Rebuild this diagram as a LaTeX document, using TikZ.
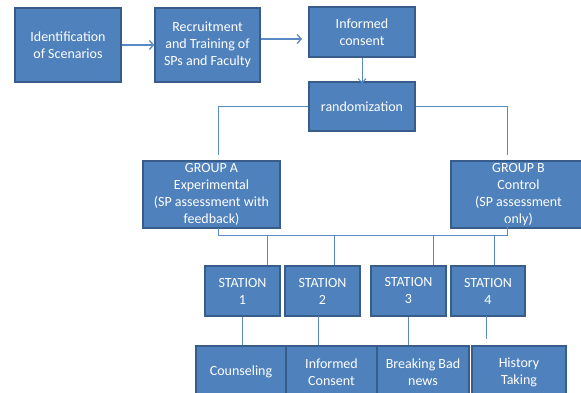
\documentclass[tikz,border=0pt]{standalone}
\usepackage{fontspec}
\setmainfont{Carlito}
\usetikzlibrary{arrows.meta}
\definecolor{boxfill}{HTML}{4F81BD}
\definecolor{boxdraw}{HTML}{385D8A}
\definecolor{linecol}{HTML}{5A8AC6}
\tikzset{
  bx/.style={draw=boxdraw, fill=boxfill, line width=1.5pt, text=white, inner sep=0pt,
    align=center, font=\fontsize{14}{17}\selectfont},
  conn/.style={draw=linecol, line width=1pt},
  arr/.style={draw=linecol, line width=1.8pt, -{Straight Barb[length=4pt,width=9pt,line width=1.3pt]}},
  arrthin/.style={draw=linecol, line width=1pt, -{Straight Barb[length=4pt,width=8pt]}}
}
\begin{document}
\begin{tikzpicture}[x=1pt,y=-1pt]
\useasboundingbox (0,0) rectangle (581,393);
\clip (0,0) rectangle (581,393);
% top row
\node[bx, minimum width=106, minimum height=74] (id) at (68,45) {Identification\\of Scenarios};
\node[bx, minimum width=105, minimum height=74] (rec) at (207.5,45) {Recruitment\\and Training of\\SPs and Faculty};
\node[bx, minimum width=106, minimum height=50] (con) at (362,32) {Informed\\consent};
\node[bx, minimum width=106, minimum height=49] (rand) at (362,106.5) {randomization};
% groups
\node[bx, minimum width=137, minimum height=67] (ga) at (211.5,194.5) {GROUP A\\Experimental\\(SP assessment with\\feedback)};
\node[bx, minimum width=135, minimum height=67] (gb) at (518.5,194.5) {GROUP B\\Control\\(SP assessment\\only)};
% stations
\node[bx, minimum width=75, minimum height=50] (s1) at (242.5,291) {STATION\\1};
\node[bx, minimum width=75, minimum height=50] (s2) at (322.5,291) {STATION\\2};
\node[bx, minimum width=75, minimum height=50] (s3) at (408.5,291) {STATION\\3};
\node[bx, minimum width=74, minimum height=50] (s4) at (488,291) {STATION\\4};
% bottom
\node[bx, minimum width=90, minimum height=52] (c1) at (241,372) {Counseling};
\node[bx, minimum width=91, minimum height=52] (c2) at (331.5,372) {Informed\\Consent};
\node[bx, minimum width=92, minimum height=52] (c3) at (423,372) {Breaking Bad\\news};
\node[bx, minimum width=94, minimum height=52] (c4) at (519,372) {History\\Taking};
% coordinates
\coordinate (a2) at (302,39);
\coordinate (ra) at (218,155);
\coordinate (rb) at (507,155);
\coordinate (ga0) at (218,228);
\coordinate (gb0) at (507,222);
\coordinate (busl) at (218,235);
\coordinate (busr) at (507,235);
\coordinate (b1) at (267,235);
\coordinate (b2) at (334,235);
\coordinate (b3) at (433,235);
\coordinate (b4) at (494,235);
\coordinate (d2) at (318,316);
\coordinate (d4) at (486,316);
\coordinate (d4e) at (486,339);
% connectors
\draw[arr] (id.east) -- (rec.west);
\draw[arr] (rec.east |- a2) -- (a2);
\draw[arrthin] (con.south) -- ([yshift=-2]rand.north);
\draw[conn] (rand.west) -| (ra);
\draw[conn] (rand.east) -| (rb);
\draw[conn] (ga0) -- (busl) -- (busr) -- (gb0);
\draw[conn] (b1) -- (b1 |- s1.north);
\draw[conn] (b2) -- (b2 |- s2.north);
\draw[conn] (b3) -- (b3 |- s3.north);
\draw[conn] (b4) -- (b4 |- s4.north);
\draw[conn] (s1.south) -- (s1.south |- c1.north);
\draw[conn] (d2) -- (d2 |- c2.north);
\draw[conn] (s3.south) -- (s3.south |- c3.north);
\draw[conn] (d4) -- (d4e);
\end{tikzpicture}
\end{document}
